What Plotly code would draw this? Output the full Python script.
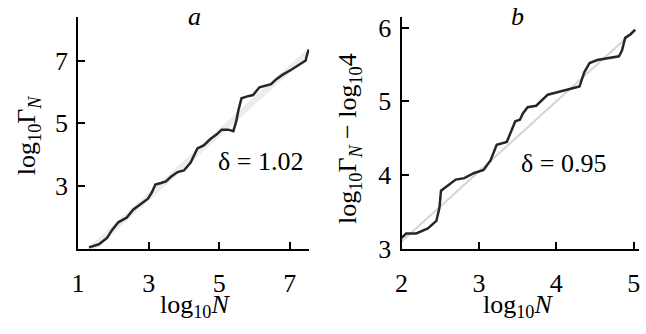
import plotly.graph_objects as go

# Panel a data
a_x = [1.31, 1.59, 1.82, 1.96, 2.14, 2.38, 2.56, 2.80, 2.98, 3.09, 3.19, 3.35, 3.49, 3.63, 3.82,
       4.00, 4.19, 4.38, 4.56, 4.75, 4.93, 5.07, 5.26, 5.40, 5.49, 5.54, 5.63, 5.77, 5.96, 6.14,
       6.28, 6.47, 6.61, 6.80, 7.03, 7.26, 7.45, 7.49, 7.54]
a_y = [1.05, 1.15, 1.35, 1.60, 1.85, 2.00, 2.25, 2.45, 2.60, 2.80, 3.05, 3.10, 3.15, 3.30, 3.45,
       3.50, 3.75, 4.20, 4.30, 4.50, 4.65, 4.80, 4.80, 4.75, 5.10, 5.40, 5.80, 5.85, 5.90, 6.15,
       6.20, 6.25, 6.40, 6.55, 6.70, 6.85, 7.00, 7.20, 7.35]
a_fit_x = [1.3, 7.55]
a_fit_y = [0.93, 7.30]

# Panel b data
b_x = [2.00, 2.06, 2.19, 2.34, 2.45, 2.49, 2.51, 2.62, 2.70, 2.81, 2.94, 3.06, 3.15, 3.23, 3.36,
       3.47, 3.53, 3.57, 3.63, 3.74, 3.89, 4.00, 4.17, 4.30, 4.36, 4.43, 4.53, 4.68, 4.81, 4.85,
       4.89, 4.96, 5.02]
b_y = [3.15, 3.21, 3.21, 3.28, 3.38, 3.56, 3.79, 3.88, 3.94, 3.96, 4.03, 4.07, 4.20, 4.41, 4.45,
       4.73, 4.75, 4.84, 4.92, 4.94, 5.09, 5.12, 5.16, 5.20, 5.39, 5.52, 5.56, 5.59, 5.61, 5.69,
       5.86, 5.91, 5.97]
b_fit_x = [2.0, 5.0]
b_fit_y = [3.10, 5.95]

a_xticks = [1, 3, 5, 7]
a_yticks = [3, 5, 7]
b_xticks = [2, 3, 4, 5]
b_yticks = [3, 4, 5, 6]

FONT = "Times New Roman, Liberation Serif, serif"
FS = 26
W, H = 646, 334

fig = go.Figure()
fig.add_trace(go.Scatter(x=a_fit_x, y=a_fit_y, mode="lines",
                         line=dict(color="#ececec", width=6), xaxis="x", yaxis="y", showlegend=False))
fig.add_trace(go.Scatter(x=a_x, y=a_y, mode="lines",
                         line=dict(color="#262626", width=2.5), xaxis="x", yaxis="y", showlegend=False))
fig.add_trace(go.Scatter(x=b_fit_x, y=b_fit_y, mode="lines",
                         line=dict(color="#d4d4d4", width=2), xaxis="x2", yaxis="y2", showlegend=False))
fig.add_trace(go.Scatter(x=b_x, y=b_y, mode="lines",
                         line=dict(color="#262626", width=2.5), xaxis="x2", yaxis="y2", showlegend=False))

def px_x(p):
    return p / W

def px_y(p):
    return 1 - p / H

axis_common = dict(showgrid=False, zeroline=False, showline=True, linecolor="black", linewidth=2,
                   ticks="inside", ticklen=7, tickwidth=1.5, tickcolor="black",
                   ticklabeloverflow="allow",
                   tickfont=dict(family=FONT, size=FS, color="black"))

fig.update_layout(
    width=W, height=H, margin=dict(l=0, r=0, t=0, b=0),
    paper_bgcolor="white", plot_bgcolor="white",
    xaxis=dict(domain=[px_x(72), px_x(306)], range=[1, 7.55], tickvals=a_xticks,
               anchor="y", ticklabelstandoff=10, **axis_common),
    yaxis=dict(domain=[px_y(260), px_y(15)], range=[1, 8.38], tickvals=a_yticks,
               anchor="x", ticklabelstandoff=3, **axis_common),
    xaxis2=dict(domain=[px_x(399.5), px_x(640)], range=[2, 5.07], tickvals=b_xticks,
                anchor="y2", ticklabelstandoff=10, **axis_common),
    yaxis2=dict(domain=[px_y(260), px_y(15)], range=[3, 6.14], tickvals=b_yticks,
                anchor="x2", ticklabelstandoff=3, **axis_common),
)

def ann(text, x, y, size=FS, angle=0):
    fig.add_annotation(text=text, x=px_x(x), y=px_y(y), xref="paper", yref="paper",
                       showarrow=False, xanchor="center", yanchor="middle", textangle=angle,
                       font=dict(family=FONT, size=size, color="black"))

ann("<i>a</i>", 190, 14)
ann("<i>b</i>", 517, 14)
ann("δ = 1.02", 257, 168)
ann("δ = 0.95", 563, 170)
ann("log<sub>10</sub><i>N</i>", 190, 320)
ann("log<sub>10</sub><i>N</i>", 517, 320)
ann("log<sub>10</sub>Γ<sub><i>N</i></sub>", 22, 140, angle=-90)
ann("log<sub>10</sub>Γ<sub><i>N</i></sub> − log<sub>10</sub>4", 347, 143, angle=-90)

fig.write_html("out.html", config={"displayModeBar": False},
               post_script="document.body.style.margin='0';")
